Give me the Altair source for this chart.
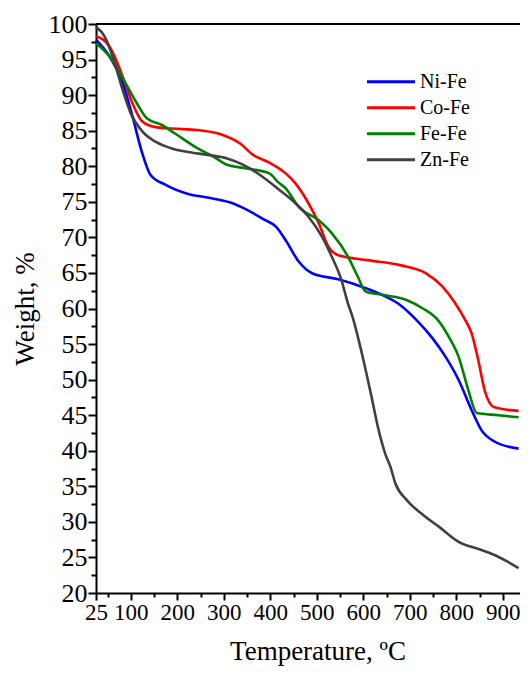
import altair as alt
import pandas as pd

series_names = ["Ni-Fe", "Co-Fe", "Fe-Fe", "Zn-Fe"]
series_colors = ["#0000ff", "#ff0000", "#008000", "#404040"]

ni_t = [25, 54.5, 82.5, 103.5, 124.6, 142, 174, 223, 265, 314, 349, 384, 412, 433, 461, 490, 546, 595, 644, 679, 714, 749, 777, 805, 833, 854, 882, 934]
ni_w = [97.8, 95.4, 91.7, 87.0, 81.8, 78.8, 77.4, 76.1, 75.6, 74.9, 73.9, 72.6, 71.5, 69.6, 66.6, 64.95, 64.1, 63.1, 61.8, 60.5, 58.4, 55.8, 53.2, 49.95, 45.7, 42.9, 41.3, 40.3]

co_t = [25, 54.5, 82.5, 103.5, 124.6, 153, 188, 244, 293, 335, 363, 398, 433, 454, 482, 504, 525, 546, 609, 679, 735, 770, 798, 819, 833, 847, 861, 882, 934]
co_w = [98.3, 96.8, 92.6, 88.85, 86.3, 85.5, 85.3, 85.1, 84.5, 83.2, 81.6, 80.5, 79.0, 77.6, 74.8, 72.0, 68.7, 67.5, 66.8, 66.1, 64.95, 63.1, 60.7, 58.4, 56.5, 52.8, 48.5, 46.1, 45.6]

fe_t = [25, 54.5, 82.5, 110.7, 135, 167, 195, 244, 279, 307, 349, 398, 416, 433, 461, 504, 532, 567, 588, 605, 644, 693, 728, 760, 784, 805, 826, 844, 890, 934]
fe_w = [97.3, 95.4, 92.4, 89.1, 86.7, 85.8, 84.6, 82.5, 81.3, 80.2, 79.7, 79.0, 77.8, 76.9, 74.3, 72.4, 70.6, 67.3, 64.5, 62.4, 61.9, 61.2, 60.0, 58.4, 56.0, 53.2, 48.5, 45.3, 45.0, 44.7]

zn_t = [25, 44, 61, 82.5, 100, 124.6, 153, 188, 223, 265, 307, 342, 377, 419, 454, 482, 511, 532, 553, 567, 577, 595, 616, 633, 647, 658, 669, 693, 728, 763, 805, 854, 890, 934]
zn_w = [99.6, 98.2, 95.4, 90.7, 87.4, 84.9, 83.45, 82.5, 82.0, 81.6, 81.1, 80.2, 78.8, 76.7, 74.8, 72.9, 70.1, 67.3, 64.0, 60.7, 58.8, 54.2, 48.1, 42.9, 39.6, 37.8, 35.4, 33.1, 31.0, 29.3, 27.2, 26.05, 25.1, 23.5]

x_tick_values = [25, 50] + list(range(100, 901, 50))
y_tick_values = [20 + 2.5 * i for i in range(33)]

rows = []
for name, ts, ws in zip(series_names, [ni_t, co_t, fe_t, zn_t], [ni_w, co_w, fe_w, zn_w]):
    for i, (t, w) in enumerate(zip(ts, ws)):
        rows.append({"series": name, "T": t, "W": w, "idx": i})
df = pd.DataFrame(rows)

top_df = pd.DataFrame({"W": [100]})

FONT = "Liberation Serif"
x_major = "datum.value == 25 || datum.value % 100 == 0"
y_major = "datum.value % 5 == 0"

x_axis = alt.Axis(
    values=x_tick_values,
    format="d",
    labelExpr=f"({x_major}) ? datum.label : ''",
    tickSize={"condition": {"test": x_major, "value": 7}, "value": 4},
    tickWidth=2,
    tickColor="black",
    domainColor="black",
    domainWidth=2,
    labelFont=FONT,
    labelFontSize=23,
    labelColor="black",
    labelPadding=1,
    labelFlush=False,
    labelOverlap=False,
    grid=False,
    title="Temperature, ºC",
    titleFont=FONT,
    titleFontSize=27,
    titleFontWeight="normal",
    titleColor="black",
    titleX=221.5,
    titleY=66,
    titleBaseline="alphabetic",
    titleAlign="center",
)

y_axis = alt.Axis(
    values=y_tick_values,
    format="d",
    labelExpr=f"({y_major}) ? datum.label : ''",
    tickSize={"condition": {"test": y_major, "value": 8}, "value": 5},
    tickWidth=2,
    tickColor="black",
    domainColor="black",
    domainWidth=2,
    labelFont=FONT,
    labelFontSize=26,
    labelColor="black",
    labelPadding=1,
    labelFlush=False,
    labelOverlap=False,
    grid=False,
    title="Weight, %",
    titleFont=FONT,
    titleFontSize=27,
    titleFontWeight="normal",
    titleColor="black",
    titleX=-63,
    titleY=284.5,
    titleAngle=-90,
    titleBaseline="alphabetic",
    titleAlign="center",
)

y_scale = alt.Scale(domain=[20, 100], nice=False, zero=False)

lines = alt.Chart(df).mark_line(strokeWidth=2.6, interpolate="monotone").encode(
    x=alt.X("T:Q", scale=alt.Scale(domain=[25, 937], nice=False, zero=False), axis=x_axis),
    y=alt.Y("W:Q", scale=y_scale, axis=y_axis),
    color=alt.Color(
        "series:N",
        scale=alt.Scale(domain=series_names, range=series_colors),
        legend=alt.Legend(
            orient="none",
            legendX=279.5,
            legendY=42.2,
            title=None,
            symbolType="M-1.714,0H1.714",
            symbolSize=784,
            symbolStrokeWidth=3,
            labelFont=FONT,
            labelFontSize=20,
            labelColor="black",
            labelOffset=13.5,
            rowPadding=0,
            padding=0,
        ),
    ),
    detail="series:N",
    order="idx:Q",
)

top_line = alt.Chart(top_df).mark_rule(color="black", strokeWidth=2).encode(
    y=alt.Y("W:Q", scale=y_scale, axis=y_axis)
)

chart = alt.layer(lines, top_line).properties(
    width=424,
    height=569,
    autosize=alt.AutoSizeParams(type="none"),
    padding={"left": 88, "top": 16, "right": 0, "bottom": 73},
).configure_view(
    strokeWidth=0,
)

chart.save("out.html", embed_options={"renderer": "svg", "actions": False})
